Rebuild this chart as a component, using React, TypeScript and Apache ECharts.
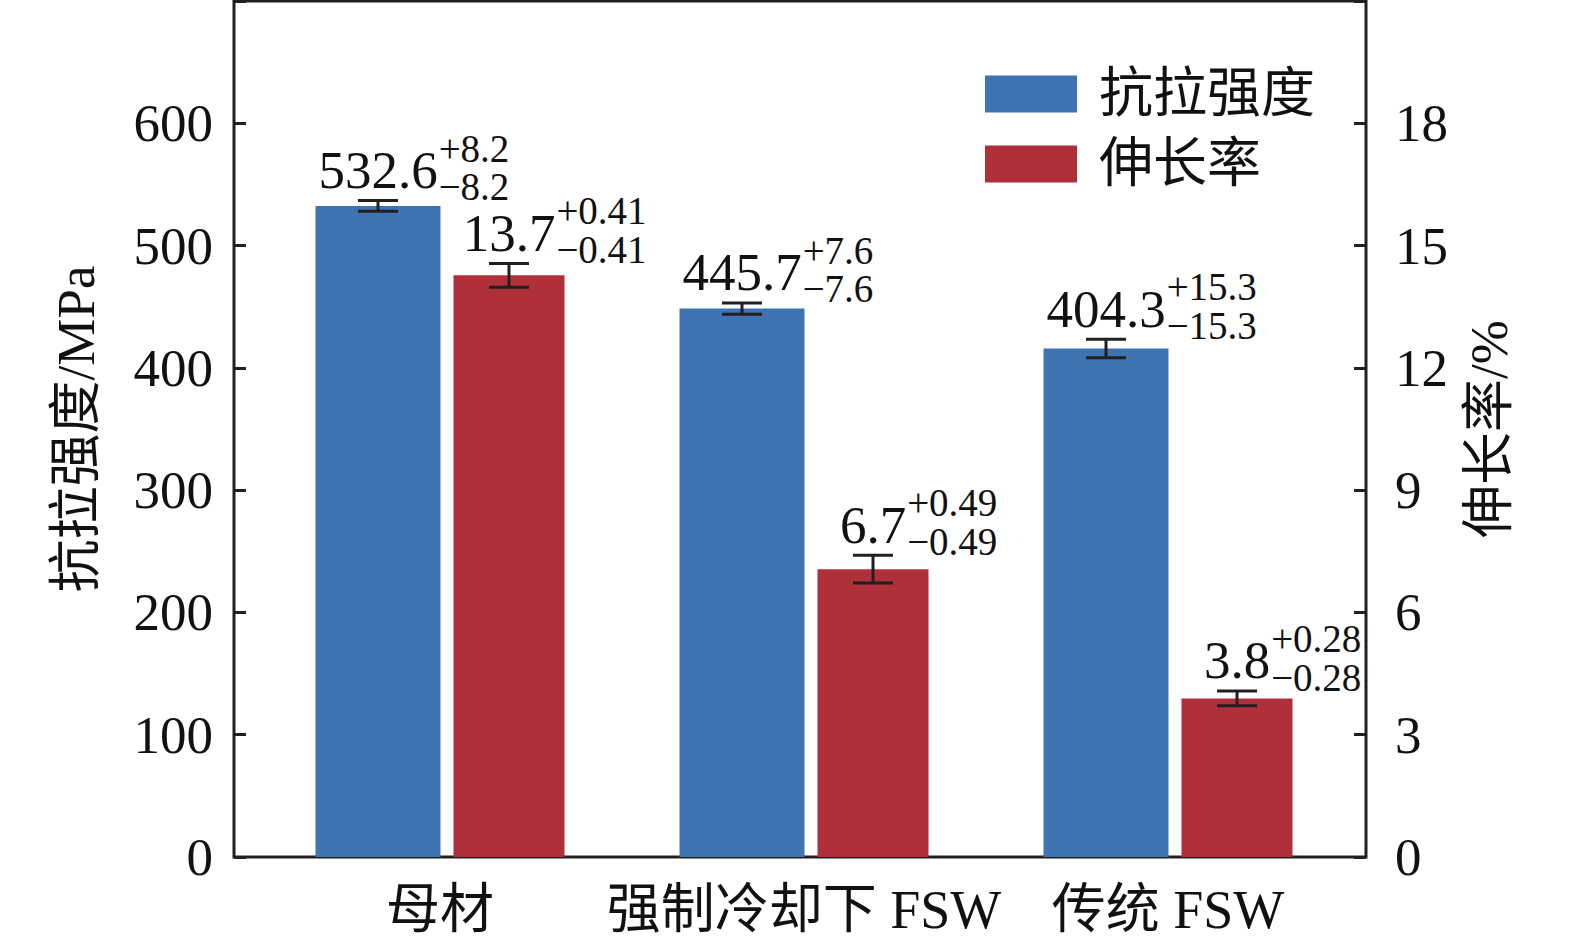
import React, { useEffect, useRef } from "react";
import * as echarts from "echarts";

// ---- data ----
const categories = ["母材", "强制冷却下 FSW", "传统 FSW"];
const seriesNames = ["抗拉强度", "伸长率"];
// bar heights as drawn
const strengthBars = [532.4, 448.5, 415.8];
const elongationBars = [14.27, 7.06, 3.89];
// error-bar half lengths as drawn
const strengthErr = [4.4, 4.6, 7.5];
const elongationErr = [0.29, 0.34, 0.18];
// annotation texts
const strengthMain = ["532.6", "445.7", "404.3"];
const strengthDev = ["8.2", "7.6", "15.3"];
const elongationMain = ["13.7", "6.7", "3.8"];
const elongationDev = ["0.41", "0.49", "0.28"];
// axes
const leftTicks = [0, 100, 200, 300, 400, 500, 600];
const rightTicks = [0, 3, 6, 9, 12, 15, 18];
const leftMax = 700;
const rightMax = 21;
const axisTitles = ["抗拉强度/MPa", "伸长率/%"];

// ---- style ----
const FONT = '"Liberation Serif", "Times New Roman", "Noto Sans CJK SC", serif';
const INK = "#231f20";
const BLUE = "#3f74b3";
const RED = "#b0303a";
const BW = 125;
const RW = 111;
const GAP = 13;
const CAP = 40;
const MAIN_FS = 53;
const DEV_FS = 39;

let measureCtx: CanvasRenderingContext2D | null = null;
function textWidth(s: string, size: number): number {
  if (!measureCtx) measureCtx = document.createElement("canvas").getContext("2d");
  if (!measureCtx) return s.length * size * 0.5;
  measureCtx.font = `${size}px "Liberation Serif"`;
  return measureCtx.measureText(s).width;
}

function annotSeries(
  vals: number[],
  errs: number[],
  mains: string[],
  devs: string[],
  yAxisIndex: number,
  offset: number
) {
  return {
    type: "custom",
    xAxisIndex: 1,
    yAxisIndex,
    silent: true,
    z: 5,
    data: vals.map((v, i) => [i, v, errs[i]]),
    renderItem: (params: any, api: any) => {
      const i = api.value(0);
      const v = api.value(1);
      const e = api.value(2);
      const c = api.coord([i, v]);
      const top = api.coord([i, v + e]);
      const bot = api.coord([i, v - e]);
      const x = c[0] + offset;
      const ls = { stroke: INK, lineWidth: 3 };
      const main = mains[params.dataIndex];
      const dev = devs[params.dataIndex];
      const w = textWidth(main, MAIN_FS);
      const base = top[1] - 13;
      return {
        type: "group",
        children: [
          { type: "line", shape: { x1: x, y1: top[1], x2: x, y2: bot[1] }, style: ls },
          { type: "line", shape: { x1: x - CAP / 2, y1: top[1], x2: x + CAP / 2, y2: top[1] }, style: ls },
          { type: "line", shape: { x1: x - CAP / 2, y1: bot[1], x2: x + CAP / 2, y2: bot[1] }, style: ls },
          {
            type: "text",
            x,
            y: base - 0.335 * MAIN_FS,
            style: {
              text: main,
              fill: "#111",
              font: `${MAIN_FS}px ${FONT}`,
              lineHeight: 36,
              align: "center",
              verticalAlign: "middle",
            },
          },
          {
            type: "text",
            x: x + w / 2 + 1,
            y: base - 26.5 - 0.335 * DEV_FS,
            style: {
              text: "+" + dev,
              fill: "#111",
              font: `${DEV_FS}px ${FONT}`,
              lineHeight: 26,
              align: "left",
              verticalAlign: "middle",
            },
          },
          {
            type: "text",
            x: x + w / 2 + 1,
            y: base + 12 - 0.335 * DEV_FS,
            style: {
              text: "\u2212" + dev,
              fill: "#111",
              font: `${DEV_FS}px ${FONT}`,
              lineHeight: 26,
              align: "left",
              verticalAlign: "middle",
            },
          },
        ],
      };
    },
  };
}

export default function App() {
  const ref = useRef<HTMLDivElement>(null);
  useEffect(() => {
    if (!ref.current) return;
    const chart = echarts.init(ref.current, null, { renderer: "svg" });
    const total = BW + GAP + RW;
    const blueOff = -total / 2 + BW / 2;
    const redOff = -total / 2 + BW + GAP + RW / 2;
    const tickStyle = { show: true, inside: true, length: 12, lineStyle: { color: INK, width: 3 } };
    chart.setOption({
      animation: false,
      backgroundColor: "#ffffff",
      textStyle: { fontFamily: FONT, color: "#111" },
      grid: [
        { left: 234, top: 1, width: 1132, height: 856, show: true, borderColor: INK, borderWidth: 3, backgroundColor: "transparent" },
        { left: 258, top: 1, width: 1092, height: 856 },
      ],
      legend: {
        orient: "vertical",
        left: 985,
        top: 67,
        padding: 0,
        itemWidth: 92,
        itemHeight: 37,
        itemGap: 16,
        icon: "rect",
        data: seriesNames,
        textStyle: { fontSize: 54, fontFamily: FONT, color: "#111", padding: [0, 0, 0, 17] },
      },
      xAxis: [
        { type: "value", gridIndex: 0, min: 0, max: 1, show: false },
        {
          type: "category",
          gridIndex: 1,
          data: categories,
          axisLine: { show: false },
          axisTick: { show: false },
          axisLabel: { fontSize: 54, fontFamily: FONT, color: "#111", margin: 26, interval: 0 },
        },
      ],
      yAxis: [
        {
          type: "value",
          gridIndex: 0,
          position: "left",
          min: 0,
          max: leftMax,
          interval: 100,
          axisLine: { show: false },
          axisTick: tickStyle,
          splitLine: { show: false },
          axisLabel: {
            fontSize: 53,
            fontFamily: FONT,
            color: "#111",
            margin: 21,
            formatter: (v: number) => (leftTicks.includes(v) ? String(v) : ""),
          },
          name: axisTitles[0],
          nameLocation: "middle",
          nameRotate: 90,
          nameGap: 132,
          nameTextStyle: { fontSize: 53, fontFamily: FONT, color: "#111" },
        },
        {
          type: "value",
          gridIndex: 0,
          position: "right",
          min: 0,
          max: rightMax,
          interval: 3,
          axisLine: { show: false },
          axisTick: tickStyle,
          splitLine: { show: false },
          axisLabel: {
            fontSize: 53,
            fontFamily: FONT,
            color: "#111",
            margin: 29,
            formatter: (v: number) => (rightTicks.includes(v) ? String(v) : ""),
          },
          name: axisTitles[1],
          nameLocation: "middle",
          nameRotate: 90,
          nameGap: 96,
          nameTextStyle: { fontSize: 53, fontFamily: FONT, color: "#111" },
        },
        { type: "value", gridIndex: 1, min: 0, max: leftMax, show: false, splitLine: { show: false } },
        { type: "value", gridIndex: 1, position: "right", min: 0, max: rightMax, show: false, splitLine: { show: false } },
      ],
      series: [
        {
          name: seriesNames[0],
          type: "bar",
          xAxisIndex: 1,
          yAxisIndex: 2,
          data: strengthBars,
          barWidth: BW,
          barGap: `${(GAP / BW) * 100}%`,
          itemStyle: { color: BLUE },
        },
        {
          name: seriesNames[1],
          type: "bar",
          xAxisIndex: 1,
          yAxisIndex: 3,
          data: elongationBars,
          barWidth: RW,
          barGap: `${(GAP / BW) * 100}%`,
          itemStyle: { color: RED },
        },
        annotSeries(strengthBars, strengthErr, strengthMain, strengthDev, 2, blueOff),
        annotSeries(elongationBars, elongationErr, elongationMain, elongationDev, 3, redOff),
      ],
    });
    return () => chart.dispose();
  }, []);
  return (
    <div
      ref={ref}
      style={{ position: "fixed", left: 0, top: 0, width: 1575, height: 945, background: "#fff" }}
    />
  );
}
